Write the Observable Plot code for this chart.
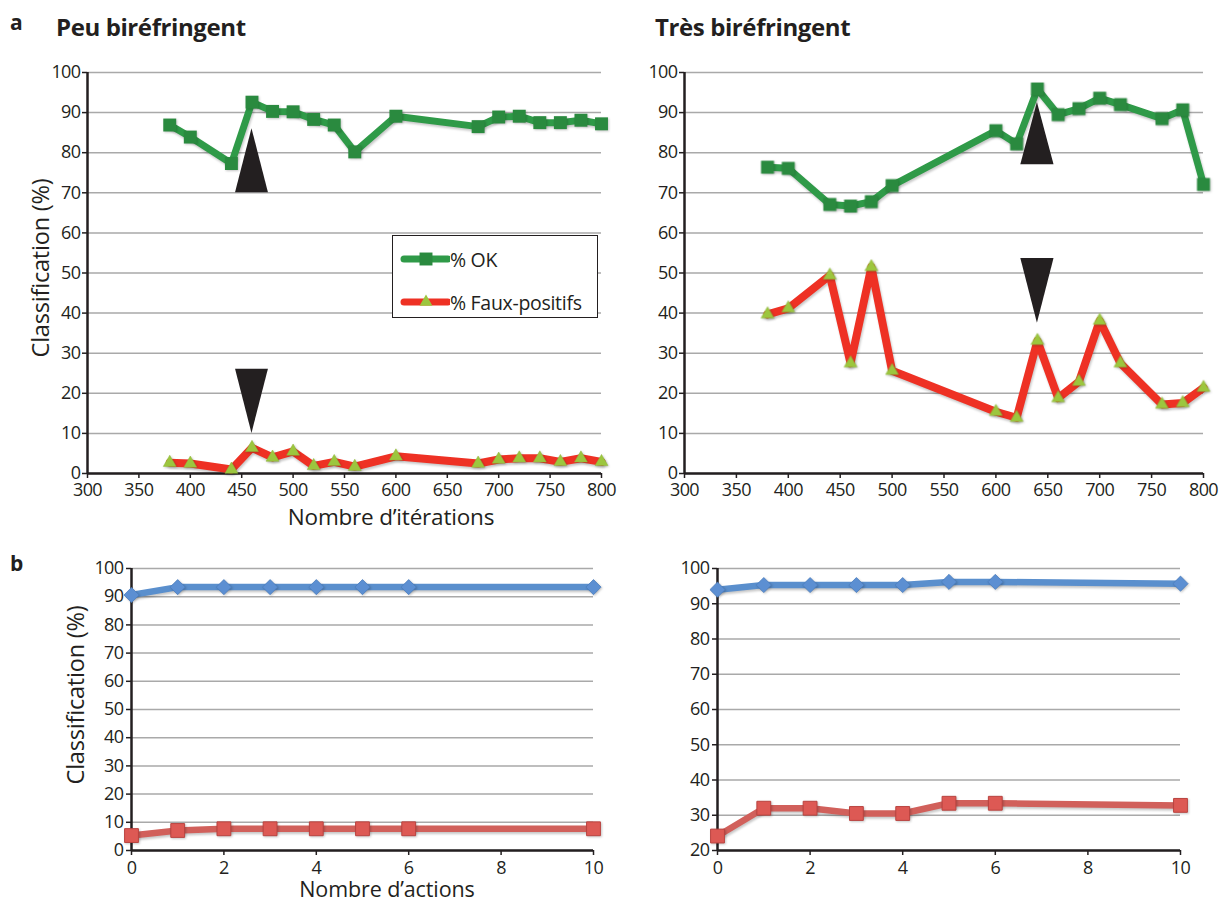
<!DOCTYPE html>
<html>
<head>
<meta charset="utf-8">
<script src="https://cdn.jsdelivr.net/npm/d3@7"></script>
<script src="https://cdn.jsdelivr.net/npm/@observablehq/plot@0.6"></script>
<style>
  html, body { margin: 0; padding: 0; background: #fff; }
  #root { position: relative; width: 1219px; height: 904px; overflow: hidden; font-family: "Open Sans", sans-serif; color: #231f20; }
  .panel { position: absolute; }
  .txt { position: absolute; white-space: nowrap; color: #231f20; font-family: "Open Sans", sans-serif; line-height: 1; }
  .legend { position: absolute; left: 392px; top: 235px; width: 206px; height: 83px; border: 1.5px solid #231f20; background: #fff; box-sizing: border-box; }
  .legend .row { position: absolute; left: 5px; height: 24px; display: flex; align-items: center; font-size: 19.5px; letter-spacing: -0.3px; }
  .legend svg { margin-right: 0px; }
  .panel svg g[aria-label="line"] { filter: drop-shadow(1px 2px 1.2px rgba(0,0,0,0.22)); }
  .panel svg g[aria-label="dot"] { filter: drop-shadow(1px 1.5px 1px rgba(0,0,0,0.22)); }
</style>
</head>
<body>
<div id="root"></div>
<script>
// ---------- data ----------
const iterLeft   = [380, 400, 440, 460, 480, 500, 520, 540, 560, 600, 680, 700, 720, 740, 760, 780, 800];
const okLeft     = [86.9, 83.9, 77.3, 92.6, 90.3, 90.2, 88.3, 86.9, 80.2, 89.1, 86.5, 88.9, 89.1, 87.5, 87.5, 88.1, 87.2];
const fpLeft     = [2.7, 2.5, 1.0, 6.4, 4.0, 5.5, 1.9, 2.9, 1.7, 4.3, 2.5, 3.5, 3.8, 3.8, 2.9, 3.8, 2.9];

const iterRight  = [380, 400, 440, 460, 480, 500, 600, 620, 640, 660, 680, 700, 720, 760, 780, 800];
const okRight    = [76.4, 76.1, 67.1, 66.7, 67.8, 71.8, 85.5, 82.2, 95.9, 89.5, 91.0, 93.6, 92.0, 88.5, 90.7, 72.1];
const fpRight    = [39.7, 41.2, 49.4, 27.5, 51.5, 25.6, 15.4, 13.9, 33.1, 18.8, 22.9, 38.1, 27.5, 17.2, 17.6, 21.4];

const actions    = [0, 1, 2, 3, 4, 5, 6, 10];
const blueLeft   = [90.6, 93.4, 93.4, 93.4, 93.4, 93.4, 93.4, 93.4];
const redLeft    = [5.3, 7.1, 7.7, 7.7, 7.7, 7.7, 7.7, 7.7];
const blueRight  = [94.0, 95.3, 95.3, 95.3, 95.3, 96.2, 96.2, 95.7];
const redRight   = [24.1, 32.0, 32.0, 30.5, 30.5, 33.4, 33.4, 32.8];

// annotation arrows: [x, base, tip]
const arrowsLeft  = [[460, 70, 86], [460, 26, 10]];
const arrowsRight = [[640, 77, 92.5], [640, 53.6, 37.5]];
const arrowHalfWidth = 16;

const iterTicks   = [300, 350, 400, 450, 500, 550, 600, 650, 700, 750, 800];
const pctTicks    = [0, 10, 20, 30, 40, 50, 60, 70, 80, 90, 100];
const pctTicks20  = [20, 30, 40, 50, 60, 70, 80, 90, 100];
const actionTicks = [0, 2, 4, 6, 8, 10];

const labels = {
  a: "a", b: "b",
  titleLeft: "Peu biréfringent", titleRight: "Très biréfringent",
  yLabel: "Classification (%)",
  xIter: "Nombre d’itérations", xActions: "Nombre d’actions",
  ok: "% OK", fp: "% Faux-positifs"
};

// ---------- helpers ----------
const INK = "#231f20";
const FONT = "'Open Sans', sans-serif";
const GREEN_LINE = "#2f9a48", GREEN_DOT = "#2a8a3f";
const RED_LINE = "#ee3124", TRI = "#9cc63e";
const BLUE = "#5a8fcd", BLUE_DOT = "#5c8fd2";
const RED2_LINE = "#d1605b", RED2_DOT = "#dd5954";
const TICK_STYLE = {fontFamily: FONT, fontSize: "18px", letterSpacing: "-0.6px", color: INK, background: "transparent", overflow: "visible"};

const zipXY = (xs, ys) => xs.map((x, i) => ({x, y: ys[i]}));
function arrowData(arr) {
  const out = [];
  arr.forEach(([x, base, tip], id) => {
    out.push({id, x: x - arrowHalfWidth, y1: base, y2: base});
    out.push({id, x: x, y1: base, y2: tip});
    out.push({id, x: x + arrowHalfWidth, y1: base, y2: base});
  });
  return out;
}

function topPanel({xs, ok, fp, arrows, marginLeft, marginRight, tickPad}) {
  const okD = zipXY(xs, ok), fpD = zipXY(xs, fp);
  return Plot.plot({
    width: 609, height: 540,
    marginLeft, marginRight, marginTop: 72, marginBottom: 67,
    x: {domain: [300, 800]},
    y: {domain: [0, 100]},
    style: TICK_STYLE,
    marks: [
      Plot.gridY(pctTicks, {stroke: "#a9a9a9", strokeOpacity: 1, strokeWidth: 1.5}),
      Plot.axisY({ticks: pctTicks, tickSize: 5, tickPadding: tickPad, label: null, strokeWidth: 1.5}),
      Plot.axisX({ticks: iterTicks, tickSize: 5, tickPadding: 5, label: null, strokeWidth: 1.5}),
      Plot.ruleX([300], {stroke: INK, strokeWidth: 2.5}),
      Plot.ruleY([0], {stroke: INK, strokeWidth: 2.5}),
      Plot.line(okD, {x: "x", y: "y", stroke: GREEN_LINE, strokeWidth: 7, strokeLinejoin: "round"}),
      Plot.line(fpD, {x: "x", y: "y", stroke: RED_LINE, strokeWidth: 8, strokeLinejoin: "round"}),
      Plot.areaY(arrowData(arrows), {x: "x", y1: "y1", y2: "y2", z: "id", fill: INK}),
      Plot.dot(okD, {x: "x", y: "y", symbol: "square", r: 7.3, fill: GREEN_DOT, stroke: "none"}),
      Plot.dot(fpD, {x: "x", y: "y", symbol: "triangle", r: 4.8, fill: TRI, stroke: "#8fb83a", strokeWidth: 0.5})
    ]
  });
}

function bottomPanel({ys1, ys2, ydomain, yticks, marginLeft, marginRight, tickPad}) {
  const bD = zipXY(actions, ys1), rD = zipXY(actions, ys2);
  return Plot.plot({
    width: 609, height: 364,
    marginLeft, marginRight, marginTop: 28, marginBottom: 54,
    x: {domain: [0, 10]},
    y: {domain: ydomain},
    style: TICK_STYLE,
    marks: [
      Plot.gridY(yticks, {stroke: "#a9a9a9", strokeOpacity: 1, strokeWidth: 1.5}),
      Plot.axisY({ticks: yticks, tickSize: 5, tickPadding: tickPad, label: null, strokeWidth: 1.5}),
      Plot.axisX({ticks: actionTicks, tickSize: 5, tickPadding: 6, label: null, strokeWidth: 1.5}),
      Plot.ruleX([0], {stroke: INK, strokeWidth: 2.5}),
      Plot.ruleY([ydomain[0]], {stroke: INK, strokeWidth: 2.5}),
      Plot.line(bD, {x: "x", y: "y", stroke: BLUE, strokeWidth: 6.5, strokeLinejoin: "round"}),
      Plot.line(rD, {x: "x", y: "y", stroke: RED2_LINE, strokeWidth: 6.5, strokeLinejoin: "round"}),
      Plot.dot(bD, {x: "x", y: "y", symbol: "diamond2", r: 6.8, fill: BLUE_DOT, stroke: "#4b7dbe", strokeWidth: 0.8}),
      Plot.dot(rD, {x: "x", y: "y", symbol: "square", r: 7.8, fill: RED2_DOT, stroke: "#b9433f", strokeWidth: 1})
    ]
  });
}

const root = document.getElementById("root");
function place(node, left, top) {
  const d = document.createElement("div");
  d.className = "panel";
  d.style.left = left + "px"; d.style.top = top + "px";
  d.appendChild(node);
  root.appendChild(d);
}
function text(str, left, top, size, extra = "") {
  const d = document.createElement("div");
  d.className = "txt";
  d.textContent = str;
  d.style.left = left + "px"; d.style.top = top + "px";
  d.style.fontSize = size + "px";
  if (extra) d.style.cssText += extra;
  root.appendChild(d);
  return d;
}

place(topPanel({xs: iterLeft, ok: okLeft, fp: fpLeft, arrows: arrowsLeft, marginLeft: 87, marginRight: 8, tickPad: 2}), 0, 0);
place(topPanel({xs: iterRight, ok: okRight, fp: fpRight, arrows: arrowsRight, marginLeft: 74, marginRight: 16, tickPad: 2}), 610, 0);
place(bottomPanel({ys1: blueLeft, ys2: redLeft, ydomain: [0, 100], yticks: pctTicks, marginLeft: 131, marginRight: 16, tickPad: 3}), 0, 540);
place(bottomPanel({ys1: blueRight, ys2: redRight, ydomain: [20, 100], yticks: pctTicks20, marginLeft: 107, marginRight: 39, tickPad: 3}), 610, 540);

// titles & labels
text(labels.a, 10, 12, 21, "font-weight:700;");
text(labels.b, 10, 553, 21, "font-weight:700;");
text(labels.titleLeft, 56, 15, 24, "font-weight:700;letter-spacing:-0.4px;");
text(labels.titleRight, 655, 15, 24, "font-weight:700;letter-spacing:-0.4px;");
text(labels.xIter, 391, 506, 22.5, "transform:translateX(-50%);letter-spacing:-0.2px;");
text(labels.xActions, 387, 878, 21.5, "transform:translateX(-50%);letter-spacing:-0.1px;");
text(labels.yLabel, 41, 268, 23.5, "transform:translate(-50%,-50%) rotate(-90deg);letter-spacing:-0.2px;");
text(labels.yLabel, 76, 695, 23.5, "transform:translate(-50%,-50%) rotate(-90deg);letter-spacing:-0.2px;");

// legend
const lg = document.createElement("div");
lg.className = "legend";
function legendRow(top, lineColor, sym) {
  const row = document.createElement("div");
  row.className = "row";
  row.style.top = top + "px";
  const ns = "http://www.w3.org/2000/svg";
  const svg = document.createElementNS(ns, "svg");
  svg.setAttribute("width", 52); svg.setAttribute("height", 20);
  const ln = document.createElementNS(ns, "line");
  ln.setAttribute("x1", 6); ln.setAttribute("x2", 50); ln.setAttribute("y1", 10); ln.setAttribute("y2", 10);
  ln.setAttribute("stroke", lineColor); ln.setAttribute("stroke-width", 7); ln.setAttribute("stroke-linecap", "round");
  svg.appendChild(ln);
  const p = document.createElementNS(ns, "path");
  p.setAttribute("transform", "translate(28,10)");
  p.setAttribute("d", d3.symbol(sym === "square" ? d3.symbolSquare : d3.symbolTriangle, sym === "square" ? 7.3*7.3*Math.PI : 4.8*4.8*Math.PI)());
  p.setAttribute("fill", sym === "square" ? GREEN_DOT : TRI);
  svg.appendChild(p);
  row.appendChild(svg);
  const s = document.createElement("span");
  s.textContent = sym === "square" ? labels.ok : labels.fp;
  row.appendChild(s);
  lg.appendChild(row);
}
legendRow(11, GREEN_LINE, "square");
legendRow(54, RED_LINE, "triangle");
root.appendChild(lg);
</script>
</body>
</html>
